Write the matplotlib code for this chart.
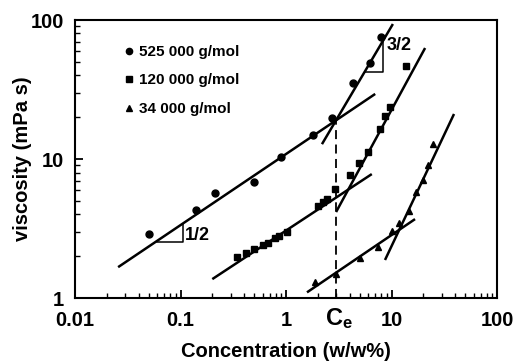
import numpy as np
import matplotlib
matplotlib.use("Agg")
import matplotlib.pyplot as plt

plt.rcParams["font.family"] = ["Liberation Sans", "DejaVu Sans"]
plt.rcParams["font.weight"] = "bold"
plt.rcParams["mathtext.fontset"] = "custom"
plt.rcParams["mathtext.rm"] = "Liberation Sans:bold"
plt.rcParams["mathtext.bf"] = "Liberation Sans:bold"

# ----- data -----
c525 = [0.05, 0.14, 0.21, 0.5, 0.9, 1.8, 2.75, 4.3, 6.2, 7.9]
v525 = [2.9, 4.3, 5.7, 6.8, 10.3, 14.9, 19.7, 35, 49, 75]

c120 = [0.34, 0.42, 0.50, 0.61, 0.68, 0.79, 0.86, 1.02,
        2.0, 2.25, 2.45, 2.9, 4.0, 4.9, 6.0, 7.8, 8.7, 9.7, 13.7]
v120 = [1.97, 2.1, 2.25, 2.4, 2.5, 2.7, 2.8, 3.0,
        4.6, 4.9, 5.15, 6.1, 7.7, 9.4, 11.2, 16.4, 20.4, 23.7, 46.7]

c34 = [1.9, 3.0, 5.0, 7.4, 10.1, 11.7, 14.5, 17, 20, 22.2, 24.7]
v34 = [1.3, 1.5, 1.95, 2.35, 3.05, 3.45, 4.2, 5.8, 7.1, 9.0, 12.8]

labels = ["525 000 g/mol", "120 000 g/mol", "34 000 g/mol"]

# power-law fit lines (end points)
fits = [
    ([0.0256, 7.0], [1.67, 29.4]),
    ([2.19, 10.3], [12.8, 93.6]),
    ([0.2, 6.5], [1.37, 7.8]),
    ([2.98, 20.8], [4.16, 62.9]),
    ([1.58, 16.7], [1.10, 3.7]),
    ([8.67, 39.1], [1.88, 21.1]),
]
Ce = 3.0
v_Ce = 19.2
tri_half = ([0.06, 0.105, 0.105], [2.55, 2.55, 3.4])
tri_3half = ([5.6, 8.3, 8.3], [42, 42, 70])

fig = plt.figure(figsize=(5.14, 3.64), dpi=100)
ax = fig.add_axes([0.146, 0.181, 0.821, 0.764])

ax.plot(c525, v525, "o", color="k", ms=5, label=labels[0])
ax.plot(c120, v120, "s", color="k", ms=5, label=labels[1])
ax.plot(c34, v34, "^", color="k", ms=5, label=labels[2])

for fx, fy in fits:
    ax.plot(fx, fy, "-", color="k", lw=1.8, solid_capstyle="butt")

ax.plot([Ce, Ce], [1, v_Ce], color="k", lw=1.3, ls=(0, (5, 3)))

ax.plot(tri_half[0], tri_half[1], color="k", lw=1.1)
ax.text(0.11, 2.8, "1/2", fontsize=13, va="center", ha="left")
ax.plot(tri_3half[0], tri_3half[1], color="k", lw=1.1)
ax.text(9.0, 66, "3/2", fontsize=13, va="center", ha="left")

ax.set_xscale("log")
ax.set_yscale("log")
ax.set_xlim(0.01, 100)
ax.set_ylim(1, 100)
ax.set_xticks([0.01, 0.1, 1, 10, 100])
ax.set_xticklabels(["0.01", "0.1", "1", "10", "100"])
ax.set_yticks([1, 10, 100])
ax.set_yticklabels(["1", "10", "100"])
ax.tick_params(which="both", direction="in", top=False, right=False)
ax.tick_params(which="major", length=6, width=1.3, labelsize=14.5)
ax.tick_params(axis="x", which="major", pad=9)
ax.tick_params(axis="y", which="major", pad=8)
ax.tick_params(which="minor", length=3.5, width=1.0)
for s in ax.spines.values():
    s.set_linewidth(1.5)

ax.annotate(r"$\mathbf{C_e}$", xy=(Ce, 0), xycoords=("data", "axes fraction"),
            xytext=(2, -6), textcoords="offset points",
            ha="center", va="top", fontsize=17)

ax.set_xlabel("Concentration (w/w%)", fontsize=14.5, fontweight="bold", labelpad=9)
ax.set_ylabel("viscosity (mPa s)", fontsize=14.5, fontweight="bold", labelpad=-1)

ax.legend(loc="upper left", bbox_to_anchor=(0.08, 0.96), frameon=False,
          fontsize=11, handlelength=0.8, handletextpad=0.3, labelspacing=0.95,
          markerscale=0.9)

fig.savefig("out.png", dpi=100)
